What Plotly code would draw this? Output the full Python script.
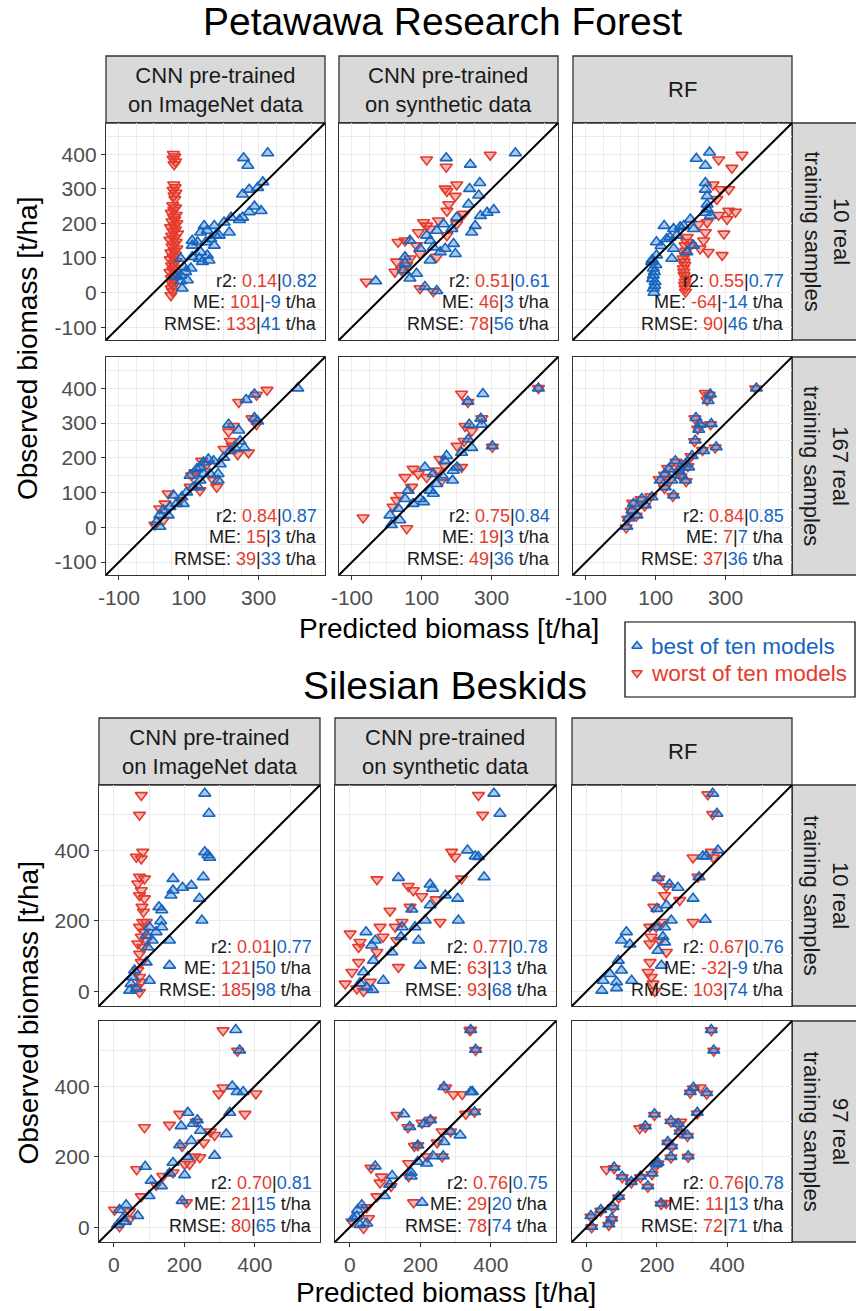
import plotly.graph_objects as go

W, H = 856, 1311
RED = "#E53B2D"
BLUE = "#1565C0"
RED_FILL = "rgba(229,59,45,0.35)"
BLUE_FILL = "rgba(21,101,192,0.35)"
FONT = "Liberation Sans, Arial, sans-serif"

# ---------------- labels ----------------
col_labels = ["CNN pre-trained<br>on ImageNet data", "CNN pre-trained<br>on synthetic data", "RF"]
pet_row_labels = ["10 real<br>training samples", "167 real<br>training samples"]
sil_row_labels = ["10 real<br>training samples", "97 real<br>training samples"]
section_titles = ["Petawawa Research Forest", "Silesian Beskids"]
x_title = "Predicted biomass [t/ha]"
y_title = "Observed biomass [t/ha]"
legend_labels = ["best of ten models", "worst of ten models"]

# stats: r2 worst, r2 best, ME worst, ME best, RMSE worst, RMSE best
pet_stats = [
    ("0.14", "0.82", "101", "-9", "133", "41"),
    ("0.51", "0.61", "46", "3", "78", "56"),
    ("0.55", "0.77", "-64", "-14", "90", "46"),
    ("0.84", "0.87", "15", "3", "39", "33"),
    ("0.75", "0.84", "19", "3", "49", "36"),
    ("0.84", "0.85", "7", "7", "37", "36"),
]
sil_stats = [
    ("0.01", "0.77", "121", "50", "185", "98"),
    ("0.77", "0.78", "63", "13", "93", "68"),
    ("0.67", "0.76", "-32", "-9", "103", "74"),
    ("0.70", "0.81", "21", "15", "80", "65"),
    ("0.76", "0.75", "29", "20", "78", "74"),
    ("0.76", "0.78", "11", "13", "72", "71"),
]

# axis settings
pet_range = [-137, 490]
sil_range = [-42, 585]
pet_xticks = [-100, 100, 300]
pet_xticktext = ["-100", "100", "300"]
pet_xminor = [-50, 0, 50, 150, 200, 250, 350, 400, 450]
pet_yticks = [-100, 0, 100, 200, 300, 400]
pet_yticktext = ["-100", "0", "100", "200", "300", "400"]
pet_yminor = [-50, 50, 150, 250, 350, 450]
sil_ticks = [0, 200, 400]
sil_ticktext = ["0", "200", "400"]
sil_minor = [100, 300, 500]

# ---------------- data (predicted, observed) ----------------
pet_in10_worst = [(56,400),(60,393),(55,386),(62,378),(58,370),(57,312),(61,304),(55,296),(63,288),(58,280),
    (60,270),(54,252),(62,245),(57,238),(50,230),(64,224),(56,218),(60,211),(52,205),(66,200),(58,194),(48,188),
    (62,182),(55,176),(68,170),(51,164),(60,158),(46,152),(64,146),(56,140),(52,133),(66,127),(58,121),(49,115),
    (62,109),(55,102),(47,96),(63,90),(57,84),(51,78),(60,71),(54,65),(46,59),(62,53),(56,47),(50,41),(58,35),
    (52,28),(55,20),(50,12),(53,4),(49,-8)]
pet_in10_best = [(326,403),(257,389),(269,367),(254,284),(273,298),(297,303),(312,319),(288,249),(273,233),
    (307,236),(245,210),(254,217),(221,217),(201,203),(216,174),(173,193),(144,193),(153,179),(134,174),(110,150),
    (125,146),(149,146),(163,155),(177,165),(134,117),(153,108),(158,93),(139,89),(110,103),(130,98),(106,70),
    (91,60),(77,98),(77,50),(62,46),(81,12),(77,33),(96,36),(86,74),(110,136),(173,136),(187,165)]

pet_syn10_worst = [(296,398),(114,384),(170,363),(200,312),(167,300),(172,293),(196,279),(177,255),(172,236),
    (220,227),(200,198),(114,193),(124,184),(148,208),(90,174),(32,146),(52,150),(85,136),(95,112),(143,103),
    (28,89),(57,79),(23,60),(42,65),(-59,31),(95,12),(133,3),(66,98),(172,165),(105,203)]
pet_syn10_best = [(368,403),(170,389),(239,370),(266,317),(237,300),(263,281),(234,255),(306,239),(287,231),
    (268,222),(200,217),(253,193),(243,174),(162,198),(186,184),(143,179),(114,165),(66,150),(124,150),(167,127),
    (196,112),(191,141),(153,117),(124,93),(52,103),(52,84),(85,55),(66,41),(47,65),(-32,33),(109,17),(143,5),
    (95,127),(133,131)]

pet_rf10_worst = [(347,398),(280,384),(318,360),(264,312),(285,298),(309,298),(275,270),(309,236),(328,233),
    (280,224),(304,212),(247,203),(223,198),(295,170),(242,174),(237,150),(250,117),(290,108),(227,127),(199,136),
    (184,136),(184,108),(181,89),(179,70),(181,50),(184,31),(184,12),(189,146),(186,120),(178,98),(183,80),
    (180,60),(186,40),(182,22),(185,2),(190,160)]
pet_rf10_best = [(254,405),(216,387),(242,367),(242,317),(242,298),(247,279),(247,255),(242,231),(256,222),
    (247,241),(199,212),(180,193),(208,184),(151,184),(124,193),(102,146),(131,155),(151,127),(160,165),(189,117),
    (208,136),(146,98),(102,108),(93,70),(93,50),(98,31),(93,12),(88,89),(141,160),(170,189),(90,95),(96,60),
    (91,40),(97,20),(95,0),(100,80),(115,135)]

pet_in167_worst = [(324,395),(294,381),(243,360),(281,313),(294,296),(228,291),(214,275),(219,248),(224,234),
    (201,225),(271,215),(240,210),(137,191),(108,149),(118,158),(104,116),(180,116),(171,135),(132,106),(41,97),
    (32,68),(17,54),(3,7),(27,21),(152,182),(75,78)]
pet_in167_best = [(412,400),(288,383),(264,367),(288,315),(297,305),(214,296),(243,279),(247,248),(259,229),
    (233,229),(219,220),(200,201),(190,182),(171,191),(156,196),(142,187),(132,172),(123,168),(184,135),(184,154),
    (161,154),(142,154),(132,135),(127,116),(104,149),(113,116),(94,101),(80,87),(56,92),(65,68),(46,59),(27,49),
    (17,35),(17,2),(8,16),(84,68),(41,35)]

pet_syn167_worst = [(434,400),(214,384),(232,360),(224,291),(243,277),(272,313),(221,248),(201,234),(152,196),
    (166,177),(214,173),(75,168),(90,154),(52,144),(71,116),(37,92),(28,78),(18,59),(-68,28),(57,-3),(114,144),
    (143,163),(302,231),(157,135)]
pet_syn167_best = [(434,400),(275,384),(232,362),(269,313),(272,296),(236,296),(243,229),(233,253),(302,234),
    (214,215),(171,206),(166,191),(190,163),(188,135),(109,173),(133,154),(143,125),(124,106),(133,97),(95,82),
    (105,73),(61,106),(52,82),(75,68),(33,54),(9,35),(13,7),(37,21),(162,144),(201,173)]

pet_rf167_worst = [(386,399),(253,381),(247,366),(212,313),(229,293),(257,296),(220,283),(211,247),(270,229),
    (234,222),(201,204),(182,184),(158,188),(134,170),(168,160),(143,137),(125,113),(149,90),(187,132),(110,138),
    (86,89),(58,80),(68,62),(34,70),(30,47),(20,24),(15,-1),(44,33),(125,151),(172,146),(192,175),(242,386)]
pet_rf167_best = [(388,400),(256,383),(250,364),(215,315),(227,296),(259,298),(223,281),(213,250),(273,231),
    (237,220),(204,206),(185,182),(156,191),(137,168),(166,163),(146,135),(127,116),(151,92),(185,135),(113,135),
    (89,87),(60,82),(70,64),(36,68),(32,49),(22,26),(17,2),(46,35),(127,154),(170,149),(194,173)]

sil_in10_worst = [(78,556),(73,500),(82,395),(64,381),(78,376),(73,324),(87,319),(68,305),(78,286),(73,272),
    (87,263),(80,239),(84,225),(82,196),(73,182),(87,168),(78,154),(68,135),(82,125),(73,106),(78,82),(68,59),
    (73,40),(78,26),(64,11),(73,-3),(92,196),(92,144)]
sil_in10_best = [(258,561),(270,504),(258,395),(267,386),(272,379),(254,324),(168,319),(195,294),(220,300),
    (168,286),(162,272),(243,263),(128,239),(136,230),(133,199),(136,182),(250,201),(101,182),(120,168),(92,158),
    (109,144),(158,144),(96,125),(158,73),(92,82),(59,59),(54,40),(49,21),(64,7),(101,30),(45,2)]

sil_syn10_worst = [(365,556),(377,500),(289,395),(298,381),(317,319),(77,317),(166,298),(180,286),(204,269),
    (245,260),(171,239),(114,228),(148,196),(256,196),(86,182),(129,182),(1,163),(29,139),(25,125),(94,154),
    (77,111),(133,144),(138,68),(25,82),(6,54),(-13,21),(20,7),(58,26),(39,0)]
sil_syn10_best = [(409,561),(426,504),(334,400),(356,383),(365,381),(381,324),(138,322),(228,303),(235,291),
    (271,272),(306,263),(228,244),(176,232),(308,201),(214,201),(185,182),(148,182),(46,168),(145,154),(195,144),
    (72,144),(62,130),(119,111),(67,87),(200,73),(39,54),(95,30),(48,11),(65,4),(29,23)]

sil_rf10_worst = [(345,558),(359,502),(303,379),(355,395),(361,379),(317,324),(206,319),(227,297),(222,272),
    (265,258),(191,239),(303,196),(217,196),(180,182),(184,154),(180,135),(208,144),(227,111),(180,82),(175,54),
    (184,40),(189,21),(194,0),(198,182)]
sil_rf10_best = [(359,561),(371,504),(374,400),(331,383),(340,383),(320,324),(203,322),(236,303),(260,294),
    (303,263),(227,244),(200,234),(338,203),(241,201),(222,182),(198,182),(113,168),(99,144),(123,133),(217,154),
    (222,139),(203,115),(90,87),(213,73),(66,49),(99,59),(47,30),(85,26),(128,30),(43,2),(85,9)]

sil_in97_worst = [(310,558),(351,500),(310,396),(298,379),(403,379),(372,321),(187,321),(87,283),(158,290),
    (234,299),(274,271),(286,261),(255,240),(194,230),(229,200),(244,198),(201,179),(215,179),(65,164),(168,155),
    (139,145),(120,120),(78,87),(206,70),(2,49),(45,44),(45,23),(16,2)]
sil_in97_best = [(346,560),(357,502),(336,400),(350,384),(367,384),(329,325),(210,325),(191,287),(225,294),
    (237,304),(246,274),(319,264),(220,245),(187,233),(286,203),(210,200),(168,183),(89,172),(106,132),(135,117),
    (158,153),(201,148),(100,89),(194,75),(68,32),(35,63),(16,49),(33,16),(11,7),(26,25)]

sil_syn97_worst = [(341,558),(357,502),(272,396),(294,377),(319,377),(329,321),(134,318),(205,296),(165,283),
    (262,271),(248,240),(183,230),(219,200),(167,181),(262,200),(60,168),(90,143),(86,126),(167,144),(117,116),
    (77,87),(48,56),(53,25),(39,-3),(6,16),(181,70),(343,560),(354,327),(229,304),(286,271),(193,232)]
sil_syn97_best = [(343,560),(357,504),(267,398),(343,384),(348,384),(354,327),(153,321),(229,304),(210,293),
    (170,285),(286,271),(313,261),(267,242),(193,232),(236,202),(265,202),(218,181),(193,186),(72,173),(174,155),
    (174,144),(120,146),(113,121),(98,89),(34,63),(22,49),(20,30),(48,11),(29,7),(10,25),(205,70)]

sil_rf97_worst = [(355,558),(362,500),(304,393),(295,381),(342,378),(315,322),(193,318),(167,284),(240,299),
    (261,290),(266,268),(287,258),(231,239),(242,227),(240,197),(289,199),(203,180),(198,176),(78,167),(186,150),
    (101,141),(153,141),(127,126),(174,114),(91,84),(75,55),(40,46),(12,29),(71,22),(63,6),(14,-1),(212,65),
    (56,164),(151,280),(268,299),(323,396),(226,68)]
sil_rf97_best = [(355,560),(362,502),(304,396),(295,384),(342,381),(315,325),(193,321),(167,287),(240,302),
    (261,293),(266,271),(287,261),(231,242),(242,230),(240,200),(289,202),(203,183),(198,179),(78,170),(186,153),
    (101,144),(153,144),(127,129),(174,117),(91,87),(75,58),(40,49),(12,32),(71,25),(63,9),(14,2),(212,68)]

pet_panels = [
    (pet_in10_worst, pet_in10_best), (pet_syn10_worst, pet_syn10_best), (pet_rf10_worst, pet_rf10_best),
    (pet_in167_worst, pet_in167_best), (pet_syn167_worst, pet_syn167_best), (pet_rf167_worst, pet_rf167_best),
]
sil_panels = [
    (sil_in10_worst, sil_in10_best), (sil_syn10_worst, sil_syn10_best), (sil_rf10_worst, sil_rf10_best),
    (sil_in97_worst, sil_in97_best), (sil_syn97_worst, sil_syn97_best), (sil_rf97_worst, sil_rf97_best),
]

# ---------------- geometry (pixels) ----------------
sections = [
    dict(cols=[(106, 325), (339, 558), (573, 792)], rows=[(123, 340), (357, 575)], strip_top=56,
         title_y=22, title_x=442, xtitle_y=628, panels=pet_panels, stats=pet_stats, rows_lab=pet_row_labels,
         rng=pet_range, xt=pet_xticks, xtt=pet_xticktext, xm=pet_xminor,
         yt=pet_yticks, ytt=pet_yticktext, ym=pet_yminor),
    dict(cols=[(99, 320), (335, 556), (572, 792)], rows=[(785, 1006), (1021, 1242)], strip_top=718,
         title_y=685, title_x=445, xtitle_y=1292, panels=sil_panels, stats=sil_stats, rows_lab=sil_row_labels,
         rng=sil_range, xt=sil_ticks, xtt=sil_ticktext, xm=sil_minor,
         yt=sil_ticks, ytt=sil_ticktext, ym=sil_minor),
]

def px(x):
    return x / W

def py(y):
    return 1 - y / H

fig = go.Figure()
layout = dict(width=W, height=H, margin=dict(l=0, r=0, t=0, b=0, autoexpand=False), showlegend=False,
              paper_bgcolor="white", plot_bgcolor="rgba(0,0,0,0)", font=dict(family=FONT))
shapes = []
annotations = []

def span(txt, c):
    return "<span style='color:%s'>%s</span>" % (c, txt)

k = 0
for s_i, sec in enumerate(sections):
    for r_i, (y0, y1) in enumerate(sec["rows"]):
        for c_i, (x0, x1) in enumerate(sec["cols"]):
            k += 1
            idx = r_i * 3 + c_i
            worst, best = sec["panels"][idx]
            xa = "x" if k == 1 else "x%d" % k
            ya = "y" if k == 1 else "y%d" % k
            for pts, sym, lc, fc in [(worst, "triangle-down", RED, RED_FILL), (best, "triangle-up", BLUE, BLUE_FILL)]:
                fig.add_trace(go.Scatter(
                    x=[p[0] for p in pts], y=[p[1] for p in pts], mode="markers", xaxis=xa, yaxis=ya,
                    marker=dict(symbol=sym, size=10.5, color=fc, line=dict(color=lc, width=1.6)),
                    hoverinfo="skip"))
            show_x = r_i == 1
            show_y = c_i == 0
            common = dict(range=sec["rng"], showline=True, mirror=True, linecolor="#333333", linewidth=1.3,
                          zeroline=False, showgrid=True, gridcolor="#EBEBEB", gridwidth=1.2, fixedrange=True,
                          automargin=False,
                          tickfont=dict(size=21, color="#4D4D4D", family=FONT), ticklen=4, tickcolor="#333333",
                          tickwidth=1.1)
            xkey = "xaxis" if k == 1 else "xaxis%d" % k
            ykey = "yaxis" if k == 1 else "yaxis%d" % k
            layout[xkey] = dict(common, domain=[px(x0), px(x1)], anchor=ya, tickmode="array",
                                tickvals=sec["xt"], ticktext=sec["xtt"], ticks="outside" if show_x else "",
                                showticklabels=show_x,
                                minor=dict(tickvals=sec["xm"], showgrid=True, gridcolor="#EBEBEB",
                                           gridwidth=0.6, ticks=""))
            layout[ykey] = dict(common, domain=[py(y1), py(y0)], anchor=xa, tickmode="array",
                                tickvals=sec["yt"], ticktext=sec["ytt"], ticks="outside" if show_y else "",
                                showticklabels=show_y,
                                minor=dict(tickvals=sec["ym"], showgrid=True, gridcolor="#EBEBEB",
                                           gridwidth=0.6, ticks=""))
            lo, hi = sec["rng"]
            shapes.append(dict(type="line", xref=xa, yref=ya, x0=lo, y0=lo, x1=hi, y1=hi,
                               line=dict(color="black", width=2), layer="above"))
            st = sec["stats"][idx]
            lines = [
                "r2: " + span(st[0], RED) + "|" + span(st[1], BLUE),
                "ME: " + span(st[2], RED) + "|" + span(st[3], BLUE) + " t/ha",
                "RMSE: " + span(st[4], RED) + "|" + span(st[5], BLUE) + " t/ha",
            ]
            for li, off in zip(lines, [59, 38, 16]):
                annotations.append(dict(text=li, xref="paper", yref="paper", x=px(x1 - 6), y=py(y1 - off),
                                        xanchor="right", yanchor="middle", showarrow=False,
                                        font=dict(size=18, color="#1A1A1A", family=FONT)))
    # top strips
    st_top = sec["strip_top"]
    first_row_top = sec["rows"][0][0]
    for c_i, (x0, x1) in enumerate(sec["cols"]):
        shapes.append(dict(type="rect", xref="paper", yref="paper", x0=px(x0), x1=px(x1),
                           y0=py(first_row_top), y1=py(st_top), fillcolor="#D9D9D9",
                           line=dict(color="#333333", width=1.3), layer="below"))
        annotations.append(dict(text=col_labels[c_i], xref="paper", yref="paper", x=px((x0 + x1) / 2),
                                y=py((st_top + first_row_top) / 2), showarrow=False, xanchor="center",
                                yanchor="middle", font=dict(size=22, color="#1A1A1A", family=FONT)))
    # right strips
    for r_i, (y0, y1) in enumerate(sec["rows"]):
        shapes.append(dict(type="rect", xref="paper", yref="paper", x0=px(792), x1=px(862),
                           y0=py(y1), y1=py(y0), fillcolor="#D9D9D9",
                           line=dict(color="#333333", width=1.3), layer="below"))
        annotations.append(dict(text=sec["rows_lab"][r_i], xref="paper", yref="paper", x=px(826),
                                y=py((y0 + y1) / 2), showarrow=False, textangle=90, xanchor="center",
                                yanchor="middle", font=dict(size=22, color="#1A1A1A", family=FONT)))
    # titles
    annotations.append(dict(text=section_titles[s_i], xref="paper", yref="paper", x=px(sec["title_x"]),
                            y=py(sec["title_y"]), showarrow=False, xanchor="center", yanchor="middle",
                            font=dict(size=39, color="black", family=FONT)))
    xs = sec["cols"]
    annotations.append(dict(text=x_title, xref="paper", yref="paper", x=px((xs[0][0] + xs[2][1]) / 2),
                            y=py(sec["xtitle_y"]), showarrow=False, xanchor="center", yanchor="middle",
                            font=dict(size=28, color="black", family=FONT)))
    rs = sec["rows"]
    annotations.append(dict(text=y_title, xref="paper", yref="paper", x=px(28),
                            y=py((rs[0][0] + rs[1][1]) / 2), showarrow=False, textangle=-90,
                            xanchor="center", yanchor="middle",
                            font=dict(size=28, color="black", family=FONT)))

# ---------------- legend (drawn manually) ----------------
k += 1
lx, ly = "x%d" % k, "y%d" % k
layout["xaxis%d" % k] = dict(domain=[0, 1], range=[0, W], visible=False, fixedrange=True, anchor=ly,
                             showgrid=False, zeroline=False, automargin=False)
layout["yaxis%d" % k] = dict(domain=[0, 1], range=[H, 0], visible=False, fixedrange=True, anchor=lx,
                             showgrid=False, zeroline=False, automargin=False)
leg_rows = [(646, "triangle-up", BLUE, BLUE_FILL), (673, "triangle-down", RED, RED_FILL)]
for (yy, sym, lc, fc), lab in zip(leg_rows, legend_labels):
    fig.add_trace(go.Scatter(x=[637], y=[yy], mode="markers", xaxis=lx, yaxis=ly, hoverinfo="skip",
                             marker=dict(symbol=sym, size=9, color=fc, line=dict(color=lc, width=1.5))))
    annotations.append(dict(text=lab, xref="paper", yref="paper", x=px(649), y=py(yy), showarrow=False,
                            xanchor="left", yanchor="middle", font=dict(size=22.5, color=lc, family=FONT)))
shapes.append(dict(type="rect", xref="paper", yref="paper", x0=px(625), x1=px(855), y0=py(697), y1=py(622),
                   line=dict(color="black", width=1.2), fillcolor="rgba(0,0,0,0)"))

layout["shapes"] = shapes
layout["annotations"] = annotations
fig.update_layout(**layout)
fig.write_html("out.html")
